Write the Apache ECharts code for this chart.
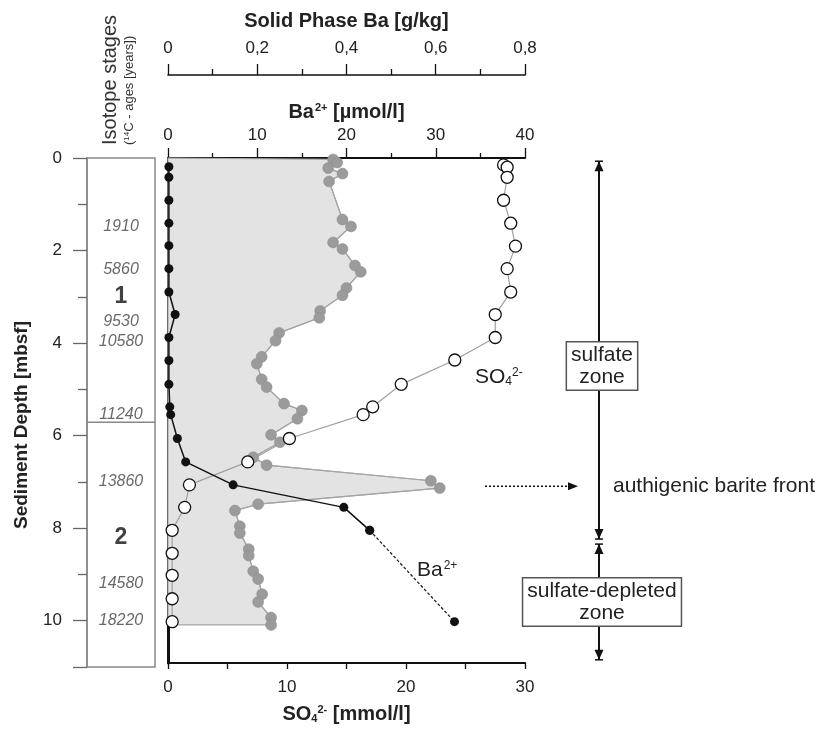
<!DOCTYPE html>
<html>
<head>
<meta charset="utf-8">
<script src="https://cdn.jsdelivr.net/npm/echarts@6/dist/echarts.min.js"></script>
<style>
  html, body { margin: 0; padding: 0; background: #fff; }
  #chart { width: 820px; height: 729px; }
</style>
</head>
<body>
<div id="chart"></div>
<script>
// ---- Pore-water Ba2+ (µmol/l) versus sediment depth (mbsf)
const baDepth = [0.19, 0.42, 0.92, 1.42, 1.91, 2.41, 2.92, 3.41, 3.91, 4.41, 4.93, 5.42, 5.59, 6.11, 6.62, 7.12, 7.61, 8.11, 10.10];
const baValue = [0.1, 0.1, 0.1, 0.1, 0.1, 0.1, 0.1, 0.8, 0.1, 0.1, 0.1, 0.2, 0.3, 1.05, 1.98, 7.3, 19.7, 22.6, 32.1];

// ---- Pore-water sulfate (mmol/l)
const so4Depth = [0.15, 0.20, 0.42, 0.92, 1.42, 1.92, 2.41, 2.92, 3.41, 3.91, 4.40, 4.93, 5.42, 5.59, 6.11, 6.62, 7.12, 7.61, 8.11, 8.61, 9.09, 9.60, 10.10];
const so4Value = [28.2, 28.5, 28.5, 28.2, 28.8, 29.2, 28.5, 28.8, 27.5, 27.5, 24.1, 19.6, 17.2, 16.4, 10.2, 6.7, 1.8, 1.4, 0.35, 0.35, 0.35, 0.35, 0.35];

// ---- Solid phase Ba (g/kg)
const spDepth = [0.03, 0.10, 0.22, 0.34, 0.51, 1.34, 1.49, 1.84, 1.98, 2.34, 2.48, 2.83, 2.99, 3.33, 3.48, 3.81, 3.98, 4.33, 4.48, 4.82, 4.99, 5.35, 5.50, 5.68, 6.03, 6.19, 6.52, 6.69, 7.03, 7.19, 7.54, 7.68, 8.02, 8.17, 8.52, 8.66, 9.00, 9.17, 9.50, 9.67, 10.01, 10.17];
const spValue = [0.370, 0.379, 0.359, 0.391, 0.361, 0.391, 0.410, 0.370, 0.391, 0.419, 0.432, 0.400, 0.391, 0.341, 0.339, 0.249, 0.241, 0.210, 0.199, 0.210, 0.221, 0.260, 0.300, 0.290, 0.231, 0.251, 0.191, 0.221, 0.589, 0.609, 0.202, 0.150, 0.161, 0.161, 0.181, 0.181, 0.191, 0.202, 0.211, 0.202, 0.231, 0.231];

// ---- Isotope stages and 14C ages
const ageLabels = ['1910', '5860', '9530', '10580', '11240', '13860', '14580', '18220'];
const ageDepth  = [1.49, 2.41, 3.53, 3.97, 5.54, 7.00, 9.20, 10.00];
const stageLabels = ['1', '2'];
const stageDepth  = [3.0, 8.2];
const stageBoundary = 5.71;

// ---- Geochemical zones
const zoneLabels = ['sulfate\nzone', 'sulfate-depleted\nzone'];
const zoneTop    = [0.07, 8.41];
const zoneBottom = [8.30, 10.93];
const zoneLabelDepth = [4.53, 9.67];
const bariteFrontDepth = 7.15;
const bariteFrontLabel = 'authigenic barite front';

// ---- Axis ranges
const depthMax = 11;
const baMax = 40, spMax = 0.8, so4Max = 30;

const FONT = '"Liberation Sans", Arial, Helvetica, sans-serif';
const zip = (xs, ys) => xs.map((x, i) => [x, ys[i]]);

const chart = echarts.init(document.getElementById('chart'), null, { renderer: 'canvas' });

const tickLabel = { fontFamily: FONT, fontSize: 17, color: '#222' };

// Filled solid-phase Ba profile (area between the depth axis and the profile)
function renderSpFill(params, api) {
  const pts = [api.coord([0, 0])];
  for (let i = 0; i < spDepth.length; i++) pts.push(api.coord([spValue[i], spDepth[i]]));
  pts.push(api.coord([0, spDepth[spDepth.length - 1]]));
  return {
    type: 'polygon',
    shape: { points: pts },
    style: { fill: '#e3e3e3', stroke: '#a8a8a8', lineWidth: 1.2 }
  };
}

// Zone arrows, boxes and barite-front arrow on the right side
function renderZones(params, api) {
  const x = 599;
  const children = [];
  const cap = (tx, ty, dir) => {
    // dir = -1 : pointing up, +1 : pointing down
    children.push({
      type: 'polygon',
      shape: { points: [[tx, ty], [tx - 4.5, ty - dir * 10], [tx + 4.5, ty - dir * 10]] },
      style: { fill: '#111' }
    });
    children.push({
      type: 'line',
      shape: { x1: tx - 4, y1: ty, x2: tx + 4, y2: ty },
      style: { stroke: '#111', lineWidth: 1.5 }
    });
  };
  for (let i = 0; i < zoneLabels.length; i++) {
    const y1 = api.coord([0, zoneTop[i]])[1];
    const y2 = api.coord([0, zoneBottom[i]])[1];
    children.push({
      type: 'line',
      shape: { x1: x, y1: y1, x2: x, y2: y2 },
      style: { stroke: '#111', lineWidth: 2 }
    });
    cap(x, y1, -1);
    cap(x, y2, 1);
    const yl = api.coord([0, zoneLabelDepth[i]])[1];
    children.push({
      type: 'text',
      x: x + 3, y: yl,
      style: {
        text: zoneLabels[i],
        fontFamily: FONT, fontSize: 21, lineHeight: 22,
        fill: '#222', align: 'center', verticalAlign: 'middle',
        backgroundColor: '#fff', borderColor: '#555', borderWidth: 1.5,
        padding: [2, 4, 1, 4]
      }
    });
  }
  const yb = api.coord([0, bariteFrontDepth])[1];
  children.push({
    type: 'line',
    shape: { x1: 485, y1: yb, x2: 570, y2: yb },
    style: { stroke: '#111', lineWidth: 1.6, lineDash: [2, 2] }
  });
  children.push({
    type: 'polygon',
    shape: { points: [[578, yb], [568, yb - 4], [568, yb + 4]] },
    style: { fill: '#111' }
  });
  children.push({
    type: 'text',
    x: 613, y: yb,
    style: { text: bariteFrontLabel, fontFamily: FONT, fontSize: 21, fill: '#222', align: 'left', verticalAlign: 'middle' }
  });
  return { type: 'group', children: children };
}

const option = {
  animation: false,
  backgroundColor: '#fff',
  textStyle: { fontFamily: FONT },
  grid: [
    { left: 168, top: 158, width: 357, height: 509 },
    { left: 87, top: 158, width: 68, height: 509, show: true, borderColor: '#888', borderWidth: 1.5, backgroundColor: 'transparent' }
  ],
  xAxis: [
    { // Ba2+ (top)
      type: 'value', gridIndex: 0, position: 'top', min: 0, max: baMax, interval: 10,
      axisLine: { show: true, onZero: false, lineStyle: { color: '#111', width: 2.2 } },
      axisTick: { show: true, inside: false, length: 10, lineStyle: { color: '#111', width: 1.3 } },
      minorTick: { show: true, splitNumber: 2, length: 5, lineStyle: { color: '#111', width: 1.3 } },
      axisLabel: Object.assign({ margin: 14 }, tickLabel),
      splitLine: { show: false }, minorSplitLine: { show: false },
      name: '{b|Ba}{p|2+}{b| [µmol/l]}', nameLocation: 'middle', nameGap: 35,
      nameTextStyle: {
        rich: {
          b: { fontFamily: FONT, fontSize: 20, fontWeight: 'bold', color: '#222' },
          p: { fontFamily: FONT, fontSize: 11, fontWeight: 'bold', color: '#222', verticalAlign: 'top', padding: [0, 0, 8, 1] }
        }
      }
    },
    { // Solid phase Ba (top, offset)
      type: 'value', gridIndex: 0, position: 'top', offset: 83, min: 0, max: spMax, interval: 0.2,
      axisLine: { show: true, onZero: false, lineStyle: { color: '#111', width: 1.6 } },
      axisTick: { show: true, inside: false, length: 11, lineStyle: { color: '#111', width: 1.3 } },
      minorTick: { show: true, splitNumber: 2, length: 6, lineStyle: { color: '#111', width: 1.3 } },
      axisLabel: Object.assign({ margin: 18, formatter: v => (Math.round(v * 10) / 10).toString().replace('.', ',') }, tickLabel),
      splitLine: { show: false }, minorSplitLine: { show: false },
      name: 'Solid Phase Ba [g/kg]', nameLocation: 'middle', nameGap: 44,
      nameTextStyle: { fontFamily: FONT, fontSize: 20, fontWeight: 'bold', color: '#222' }
    },
    { // SO4 2- (bottom)
      type: 'value', gridIndex: 0, position: 'bottom', min: 0, max: so4Max, interval: 10,
      axisLine: { show: true, onZero: false, lineStyle: { color: '#111', width: 2.2 } },
      axisTick: { show: true, inside: false, length: 6, lineStyle: { color: '#111', width: 1.3 } },
      minorTick: { show: true, splitNumber: 2, length: 6, lineStyle: { color: '#111', width: 1.3 } },
      axisLabel: Object.assign({ margin: 16 }, tickLabel),
      splitLine: { show: false }, minorSplitLine: { show: false },
      name: '{b|SO}{s|4}{p|2-}{b| [mmol/l]}', nameLocation: 'middle', nameGap: 41,
      nameTextStyle: {
        rich: {
          b: { fontFamily: FONT, fontSize: 20, fontWeight: 'bold', color: '#222' },
          s: { fontFamily: FONT, fontSize: 11, fontWeight: 'bold', color: '#222', verticalAlign: 'bottom', padding: [8, 0, 0, 0] },
          p: { fontFamily: FONT, fontSize: 11, fontWeight: 'bold', color: '#222', verticalAlign: 'top', padding: [0, 0, 8, 0] }
        }
      }
    },
    { // isotope stage column
      type: 'value', gridIndex: 1, min: 0, max: 1, show: false
    }
  ],
  yAxis: [
    {
      type: 'value', gridIndex: 0, inverse: true, min: 0, max: depthMax,
      axisLine: { show: true, onZero: false, lineStyle: { color: '#111', width: 3 } },
      axisTick: { show: false }, axisLabel: { show: false }, splitLine: { show: false }
    },
    {
      type: 'value', gridIndex: 1, inverse: true, min: 0, max: depthMax, interval: 2, position: 'left',
      axisLine: { show: true, onZero: false, lineStyle: { color: '#888', width: 1.5 } },
      axisTick: { show: true, inside: false, length: 14, lineStyle: { color: '#666', width: 1.3 } },
      minorTick: { show: true, splitNumber: 2, length: 9, lineStyle: { color: '#666', width: 1.3 } },
      axisLabel: Object.assign({ margin: 25, showMaxLabel: false }, tickLabel),
      splitLine: { show: false }, minorSplitLine: { show: false }
    }
  ],
  graphic: [
    {
      type: 'text', x: 22, y: 425, rotation: Math.PI / 2,
      style: { text: 'Sediment Depth [mbsf]', fontFamily: FONT, fontSize: 19, fontWeight: 'bold', fill: '#222', align: 'center', verticalAlign: 'middle' }
    },
    {
      type: 'text', x: 110, y: 145, rotation: Math.PI / 2,
      style: { text: 'Isotope stages', fontFamily: FONT, fontSize: 20, fill: '#333', align: 'left', verticalAlign: 'middle' }
    },
    {
      type: 'text', x: 129, y: 145, rotation: Math.PI / 2,
      style: {
        text: '{a|(}{s|14}{a|C - ages [years])}', align: 'left', verticalAlign: 'middle',
        rich: {
          a: { fontFamily: FONT, fontSize: 13, fill: '#333' },
          s: { fontFamily: FONT, fontSize: 8, fill: '#333', verticalAlign: 'top', padding: [0, 0, 5, 0] }
        }
      }
    },
    {
      type: 'text', x: 475, y: 377,
      style: {
        text: '{a|SO}{s|4}{p|2-}', align: 'left', verticalAlign: 'middle',
        rich: {
          a: { fontFamily: FONT, fontSize: 21, fill: '#222' },
          s: { fontFamily: FONT, fontSize: 12, fill: '#222', verticalAlign: 'bottom', padding: [9, 0, 0, 0] },
          p: { fontFamily: FONT, fontSize: 12, fill: '#222', verticalAlign: 'top', padding: [0, 0, 9, 0] }
        }
      }
    },
    {
      type: 'text', x: 417, y: 570,
      style: {
        text: '{a|Ba}{p|2+}', align: 'left', verticalAlign: 'middle',
        rich: {
          a: { fontFamily: FONT, fontSize: 21, fill: '#222' },
          p: { fontFamily: FONT, fontSize: 12, fill: '#222', verticalAlign: 'top', padding: [0, 0, 9, 1] }
        }
      }
    }
  ],
  series: [
    {
      type: 'custom', name: 'solid phase fill', xAxisIndex: 1, yAxisIndex: 0, z: 1,
      renderItem: renderSpFill, data: [0], silent: true
    },
    {
      type: 'line', name: 'Solid Phase Ba', xAxisIndex: 1, yAxisIndex: 0, z: 3,
      data: zip(spValue, spDepth), symbol: 'circle', symbolSize: 11, showAllSymbol: true,
      itemStyle: { color: '#9b9b9b', borderColor: '#8a8a8a', borderWidth: 0.5 },
      lineStyle: { color: '#a5a5a5', width: 1.2 }
    },
    {
      type: 'line', name: 'SO4', xAxisIndex: 2, yAxisIndex: 0, z: 4,
      data: zip(so4Value, so4Depth), symbol: 'circle', symbolSize: 12, showAllSymbol: true,
      itemStyle: { color: '#fff', borderColor: '#111', borderWidth: 1.3 },
      lineStyle: { color: '#a0a0a0', width: 1.2 }
    },
    {
      type: 'line', name: 'Ba2+', xAxisIndex: 0, yAxisIndex: 0, z: 5,
      data: zip(baValue, baDepth).slice(0, baDepth.length - 1), symbol: 'circle', symbolSize: 9, showAllSymbol: true,
      itemStyle: { color: '#111' },
      lineStyle: { color: '#111', width: 1.5 }
    },
    {
      type: 'line', name: 'Ba2+ (deep)', xAxisIndex: 0, yAxisIndex: 0, z: 5,
      data: zip(baValue, baDepth).slice(baDepth.length - 2), symbol: 'circle', symbolSize: 9, showAllSymbol: true,
      itemStyle: { color: '#111' },
      lineStyle: { color: '#222', width: 1.3, type: [3, 2] }
    },
    {
      type: 'line', name: 'stage boundary', xAxisIndex: 3, yAxisIndex: 1, z: 2,
      data: [[0, stageBoundary], [1, stageBoundary]], symbol: 'none',
      lineStyle: { color: '#888', width: 1.5 }
    },
    {
      type: 'scatter', name: 'ages', xAxisIndex: 3, yAxisIndex: 1, z: 3,
      data: ageLabels.map((t, i) => ({ value: [0.5, ageDepth[i]], name: t })),
      symbolSize: 0,
      label: { show: true, position: 'inside', formatter: p => p.name, fontFamily: FONT, fontSize: 16, fontStyle: 'italic', color: '#444' }
    },
    {
      type: 'scatter', name: 'stages', xAxisIndex: 3, yAxisIndex: 1, z: 3,
      data: stageLabels.map((t, i) => ({ value: [0.5, stageDepth[i]], name: t })),
      symbolSize: 0,
      label: { show: true, position: 'inside', formatter: p => p.name, fontFamily: FONT, fontSize: 23, fontWeight: 'bold', color: '#111' }
    },
    {
      type: 'custom', name: 'zones', xAxisIndex: 2, yAxisIndex: 0, z: 6, clip: false,
      renderItem: renderZones, data: [0], silent: true
    }
  ]
};

chart.setOption(option);
</script>
</body>
</html>
